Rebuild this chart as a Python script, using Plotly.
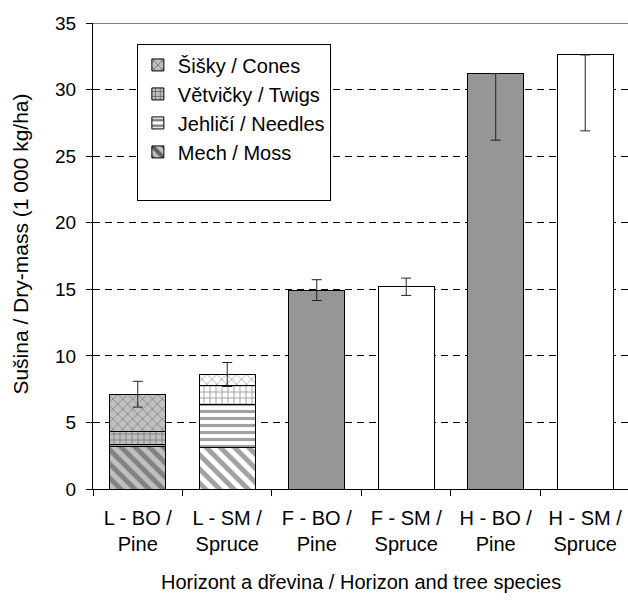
import plotly.graph_objects as go

categories = ["L - BO /<br>Pine", "L - SM /<br>Spruce", "F - BO /<br>Pine",
              "F - SM /<br>Spruce", "H - BO /<br>Pine", "H - SM /<br>Spruce"]

# stacked components (only L horizons)
moss = [3.17, 3.13, None, None, None, None]
needles = [0.2, 3.23, None, None, None, None]
twigs = [0.92, 1.44, None, None, None, None]
cones = [2.83, 0.8, None, None, None, None]

# whole bars (F and H horizons)
whole = [None, None, 14.94, 15.19, 31.2, 32.6]

totals = [7.12, 8.6, 14.94, 15.19, 31.2, 32.6]
err_plus = [0.97, 0.9, 0.78, 0.65, 0, 0]
err_minus = [0.97, 0.9, 0.78, 0.65, 5.0, 5.7]

FONT = "Liberation Sans, Arial, sans-serif"
GRAY = "#969696"
LGRAY = "#c0c0c0"
bar_fill = ["white", "white", GRAY, "white", GRAY, "white"]

fig = go.Figure()

def comp(name, vals, shape, size, solidity, bg, rank):
    fig.add_trace(go.Bar(
        x=categories, y=vals, name=name, legendgroup=name, legendrank=rank,
        marker=dict(color=bg, line=dict(color="black", width=1),
                    pattern=dict(shape=shape, fgcolor="black", bgcolor=bg,
                                 size=size, solidity=solidity, fillmode="overlay")),
    ))

comp("Mech / Moss", moss, "\\", 10, 0.5, [LGRAY, "white"] + ["white"] * 4, 4)
comp("Jehličí / Needles", needles, "-", 7, 0.45, ["white"] * 6, 3)
comp("Větvičky / Twigs", twigs, "+", 6, 0.3, [LGRAY, "white"] + ["white"] * 4, 2)
comp("Šišky / Cones", cones, "x", 7, 0.22, [LGRAY, "white"] + ["white"] * 4, 1)

# empty legend row, gives the legend box its extra bottom padding
fig.add_trace(go.Bar(
    x=[categories[0]], y=[None], name=" ", legendgroup="pad", legendrank=5,
    marker=dict(color="white", line=dict(color="white", width=0)),
    hoverinfo="skip",
))

fig.add_trace(go.Bar(
    x=categories, y=whole, showlegend=False,
    marker=dict(color=bar_fill, line=dict(color="black", width=1)),
))

fig.add_trace(go.Scatter(
    x=categories, y=totals, mode="markers", showlegend=False,
    marker=dict(size=1, color="rgba(0,0,0,0)"),
    error_y=dict(type="data", symmetric=False, array=err_plus, arrayminus=err_minus,
                 color="#222", thickness=1, width=5),
))

fig.update_layout(
    width=628, height=601,
    margin=dict(l=93, r=0, t=23, b=112),
    paper_bgcolor="white", plot_bgcolor="white",
    barmode="stack", bargap=0.374,
    font=dict(family=FONT, size=19, color="black"),
    legend=dict(x=0.082, y=0.954, xanchor="left", yanchor="top",
                bordercolor="black", borderwidth=1, bgcolor="white",
                traceorder="grouped", tracegroupgap=0,
                font=dict(size=20), itemwidth=30),
    xaxis=dict(range=[-0.5, 5.478], showline=True, linecolor="black", linewidth=1,
               ticks="outside", tickson="boundaries", ticklen=6, tickcolor="black",
               showgrid=False, tickfont=dict(size=20), ticklabelstandoff=11,
               ticklabeloverflow="allow"),
    yaxis=dict(range=[0, 35], dtick=5, showline=True, linecolor="black", linewidth=1,
               ticks="outside", ticklen=6, tickcolor="black",
               showgrid=True, gridcolor="black", gridwidth=1, griddash="7px,5px",
               tickfont=dict(size=19), zeroline=False, ticklabelstandoff=6),
    shapes=[dict(type="line", xref="paper", yref="y", x0=0, x1=1, y0=35, y1=35,
                 line=dict(color="black", width=1))],
    annotations=[
        dict(text="Horizont a dřevina / Horizon and tree species", xref="paper", yref="paper",
             x=0.5, y=-0.2, xanchor="center", yanchor="middle", showarrow=False,
             font=dict(size=20)),
        dict(text="Sušina / Dry-mass (1 000 kg/ha)", xref="paper", yref="paper",
             x=-0.136, y=0.525, xanchor="center", yanchor="middle", textangle=-90,
             showarrow=False, font=dict(size=21)),
    ],
)

fig.write_html("out.html", config={"displayModeBar": False},
               post_script="document.body.style.margin='0';document.body.style.padding='0';"
                           "document.body.style.overflow='hidden';")
